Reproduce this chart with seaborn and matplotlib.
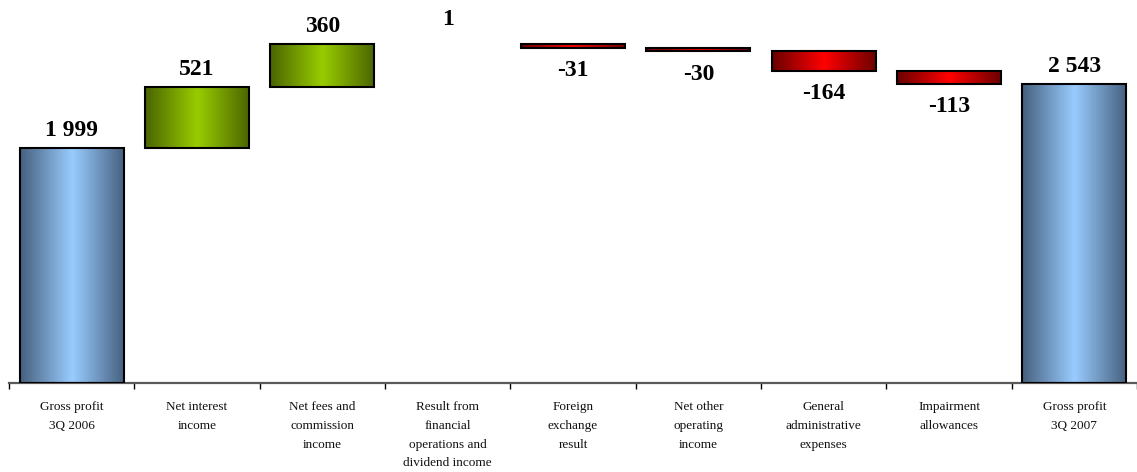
import numpy as np
import pandas as pd
import matplotlib
matplotlib.use("Agg")
import matplotlib.pyplot as plt
import seaborn as sns
from matplotlib.colors import LinearSegmentedColormap

# waterfall data
categories = [
    "Gross profit\n3Q 2006",
    "Net interest\nincome",
    "Net fees and\ncommission\nincome",
    "Result from\nfinancial\noperations and\ndividend income",
    "Foreign\nexchange\nresult",
    "Net other\noperating\nincome",
    "General\nadministrative\nexpenses",
    "Impairment\nallowances",
    "Gross profit\n3Q 2007",
]
changes = [1999, 521, 360, 1, -31, -30, -164, -113, 2543]
kinds = ["total", "up", "up", "up", "down", "down", "down", "down", "total"]

# gradient colours (edge, centre)
grad_colors = {
    "total": ("#46607e", "#99ccff"),
    "up": ("#4a6400", "#99cc00"),
    "down": ("#6a0000", "#ff0000"),
}


def fmt_value(v):
    s = f"{abs(v):,}".replace(",", " ")
    return "-" + s if v < 0 else s


# floating bar positions
bottoms, heights = [], []
running = 0
for c, k in zip(changes, kinds):
    if k == "total":
        bottoms.append(0)
        heights.append(c)
        running = c
    elif c >= 0:
        bottoms.append(running)
        heights.append(c)
        running += c
    else:
        running += c
        bottoms.append(running)
        heights.append(-c)

df = pd.DataFrame({"category": categories, "height": heights,
                   "bottom": bottoms, "kind": kinds, "change": changes})

sns.set_style("white")
plt.rcParams["font.family"] = ["Liberation Serif", "DejaVu Serif"]
plt.rcParams["text.color"] = "black"
plt.rcParams["xtick.color"] = "black"

fig = plt.figure(figsize=(11.37, 4.72), dpi=100)
ax = fig.add_axes([9 / 1137, 89 / 472, 1128 / 1137, 383 / 472])

sns.barplot(data=df, x="category", y="height", bottom=df["bottom"].values,
            width=0.83, color="white", edgecolor="black", linewidth=1.5,
            ax=ax)

# horizontal gradient fill inside every bar
ramp = np.linspace(0, 1, 256)[None, :]
for patch, k, h in zip(ax.patches, df["kind"], df["height"]):
    patch.set_facecolor("none")
    patch.set_zorder(3)
    if h < 5:  # too small to show up in the original
        patch.set_linewidth(0)
        continue
    edge, centre = grad_colors[k]
    cmap = LinearSegmentedColormap.from_list(k, [edge, centre, edge])
    x0, y0 = patch.get_x(), patch.get_y()
    w, ph = patch.get_width(), patch.get_height()
    ax.imshow(ramp, cmap=cmap, aspect="auto", extent=[x0, x0 + w, y0, y0 + ph],
              zorder=2, interpolation="bicubic")

# value labels
for i, row in df.iterrows():
    txt = fmt_value(row["change"])
    if row["change"] >= 0:
        lift = 10 if row["height"] < 5 else 5
        ax.annotate(txt, (i, row["bottom"] + row["height"]), xytext=(0, lift),
                    textcoords="offset points", ha="center", va="bottom",
                    fontsize=17, fontweight="bold", color="black")
    else:
        ax.annotate(txt, (i, row["bottom"]), xytext=(0, -9),
                    textcoords="offset points", ha="center", va="top",
                    fontsize=17, fontweight="bold", color="black")

ax.set_xlim(-0.5, len(categories) - 0.5)
ax.set_ylim(0, 3257)
ax.set_xlabel("")
ax.set_ylabel("")
ax.set_yticks([])
ax.set_xticks(range(len(categories)))
ax.set_xticklabels(categories, fontsize=9.5, linespacing=1.75, color="#111111")
ax.set_xticks(np.arange(-0.5, len(categories), 1), minor=True)
ax.tick_params(axis="x", which="major", length=0, pad=13)
ax.tick_params(axis="x", which="minor", length=4, width=1, color="black",
               direction="out", bottom=True)
for side in ["top", "left", "right"]:
    ax.spines[side].set_visible(False)
ax.spines["bottom"].set_color("#5a5a5a")
ax.spines["bottom"].set_linewidth(1.6)
ax.patch.set_alpha(0)

fig.savefig("out.png", dpi=100)
